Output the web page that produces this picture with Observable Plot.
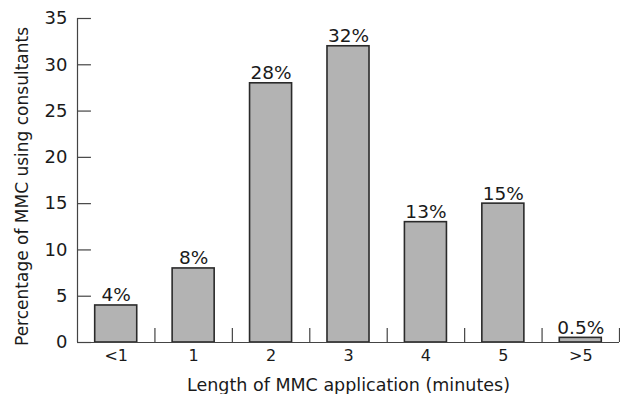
<!DOCTYPE html>
<html>
<head>
<meta charset="utf-8">
<script src="https://cdn.jsdelivr.net/npm/d3@7"></script>
<script src="https://cdn.jsdelivr.net/npm/@observablehq/plot@0.6"></script>
<style>
html,body{margin:0;padding:0;background:#fff;}
svg{display:block;}
</style>
</head>
<body>
<div id="chart"></div>
<script>
const categories = ["<1", "1", "2", "3", "4", "5", ">5"];
const values = [4, 8, 28, 32, 13, 15, 0.5];
const valueLabels = ["4%", "8%", "28%", "32%", "13%", "15%", "0.5%"];
const yTicks = [0, 5, 10, 15, 20, 25, 30, 35];

const data = categories.map((c, i) => ({cat: c, i, value: values[i], label: valueLabels[i]}));
const boundaries = categories.map((c, i) => i + 1);

const font = "'DejaVu Sans', sans-serif";
const ink = "#1a1a1a";

const chart = Plot.plot({
  width: 620,
  height: 394,
  marginLeft: 77,
  marginRight: 1,
  marginTop: 18,
  marginBottom: 52,
  style: {fontFamily: font, color: ink, background: "#fff"},
  x: {domain: [0, 7], axis: null},
  y: {domain: [0, 35], axis: null},
  marks: [
    Plot.rectY(data, {x1: d => d.i, x2: d => d.i + 1, y: "value", fill: "#b3b3b3", stroke: "#2a2a2a", strokeWidth: 1.6, insetLeft: 17.7, insetRight: 17.7}),
    Plot.ruleX(boundaries, {y1: 0, y2: 1.5, stroke: "#444", strokeWidth: 1.2}),
    Plot.ruleY([0], {stroke: "#444", strokeWidth: 1.2}),
    Plot.ruleX([0], {y1: 0, y2: 35, stroke: "#444", strokeWidth: 1.2}),
    Plot.ruleY(yTicks, {y: d => d, x1: 0, x2: 0.18, stroke: "#444", strokeWidth: 1.2}),
    Plot.text(yTicks, {y: d => d, x: 0, text: d => String(d), textAnchor: "end", dx: -10, fontSize: 18, fill: ink}),
    Plot.text(data, {x: d => d.i + 0.5, y: 0, text: "cat", lineAnchor: "top", dy: 7, fontSize: 16, fill: ink}),
    Plot.text(data, {x: d => d.i + 0.5, y: "value", text: "label", lineAnchor: "bottom", dy: -4, fontSize: 18.5, fill: ink}),
    Plot.text(["Length of MMC application (minutes)"], {frameAnchor: "bottom", dy: 48, lineAnchor: "bottom", fontSize: 17.5, fill: ink, text: d => d}),
    Plot.text(["Percentage of MMC using consultants"], {frameAnchor: "left", textAnchor: "middle", dx: -55, dy: 6, rotate: -90, fontSize: 17, fill: ink, text: d => d})
  ]
});
document.getElementById("chart").appendChild(chart);
</script>
</body>
</html>
